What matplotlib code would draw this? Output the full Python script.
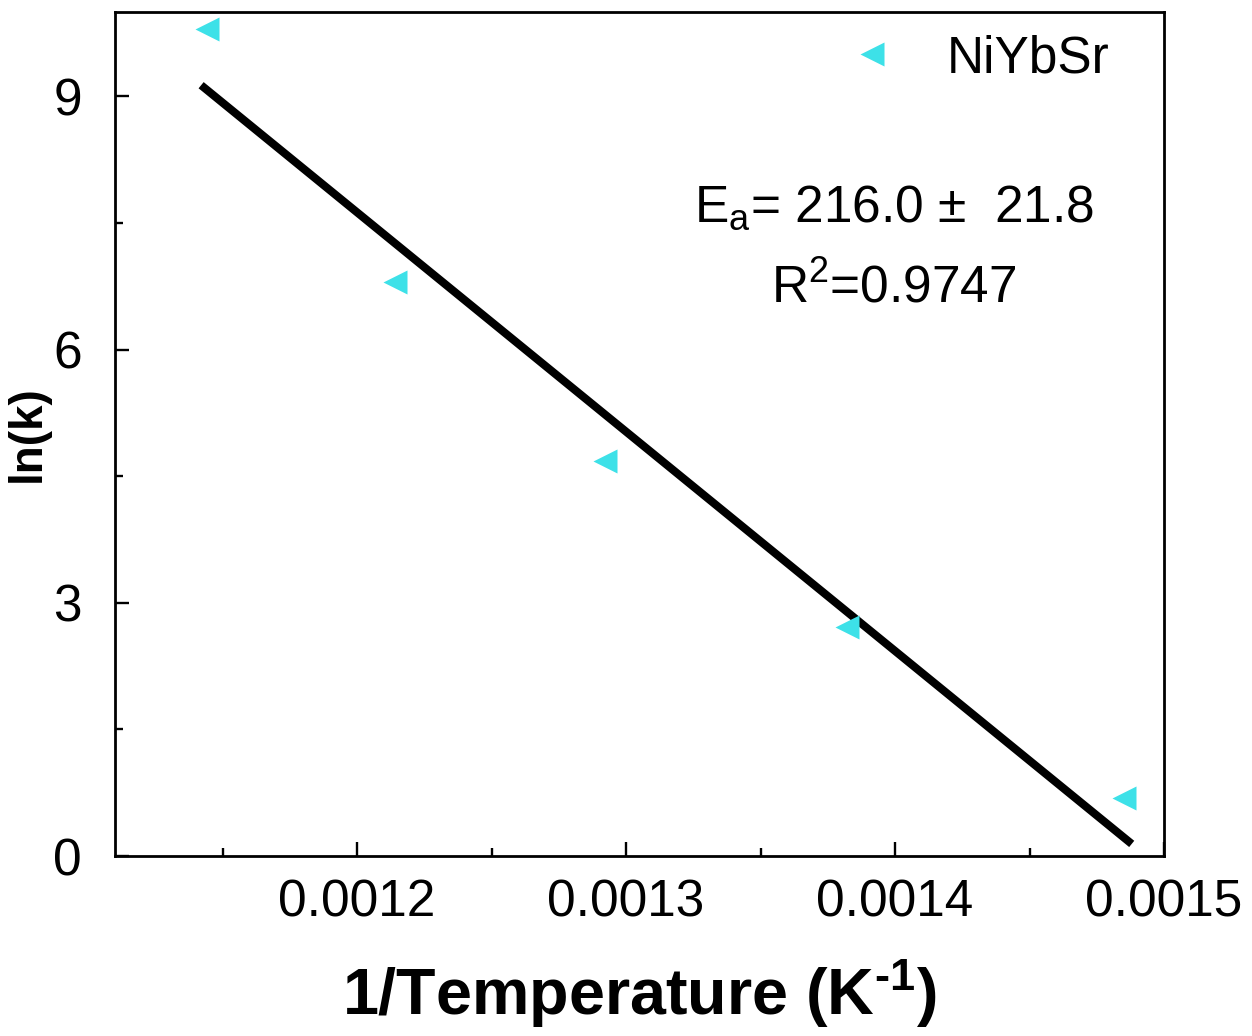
import numpy as np
import matplotlib
matplotlib.use("Agg")
import matplotlib.pyplot as plt
from matplotlib.ticker import MultipleLocator, FormatStrFormatter

plt.rcParams['font.family'] = ['Liberation Sans', 'DejaVu Sans']
plt.rcParams['mathtext.fontset'] = 'custom'
plt.rcParams['mathtext.rm'] = 'Liberation Sans'
plt.rcParams['mathtext.it'] = 'Liberation Sans'
plt.rcParams['mathtext.bf'] = 'Liberation Sans:bold'

# Arrhenius data: 1/T (K^-1) and ln(k)
inv_temp = [0.0011442, 0.001214, 0.001292, 0.0013823, 0.0014852]
ln_k = [9.80, 6.80, 4.68, 2.71, 0.69]
sample = "NiYbSr"
ea = 216.0        # kJ/mol
ea_err = 21.8
r2 = 0.9747
fit_range = [0.001142, 0.001488]
R_GAS = 8.314

x = np.array(inv_temp)
y = np.array(ln_k)
# slope fixed by Ea, intercept by least squares
slope = -ea * 1000 / R_GAS
intercept = y.mean() - slope * x.mean()
xfit = np.array(fit_range)

fig = plt.figure(figsize=(12.52, 10.36), dpi=100)
ax = fig.add_axes([0.0919, 0.1737, 0.8378, 0.8147])

ax.plot(xfit, slope * xfit + intercept, color='black', lw=5.8, solid_capstyle='butt', zorder=2)
ax.plot(x, y, ls='none', marker='<', ms=17, color='#3DE1E8', mec='none', label=sample, zorder=3)

ax.set_xlim(0.00111, 0.0015)
ax.set_ylim(0, 10)
ax.xaxis.set_major_locator(MultipleLocator(0.0001))
ax.xaxis.set_minor_locator(MultipleLocator(0.00005))
ax.xaxis.set_major_formatter(FormatStrFormatter('%.4f'))
ax.yaxis.set_major_locator(MultipleLocator(3))
ax.yaxis.set_minor_locator(MultipleLocator(1.5))

ax.tick_params(which='both', direction='in', width=1.7, top=False, right=False)
ax.tick_params(which='major', length=10, labelsize=37)
ax.tick_params(which='minor', length=5.5)
ax.tick_params(axis='x', which='major', pad=16)
ax.tick_params(axis='y', which='major', pad=24)
for s in ax.spines.values():
    s.set_linewidth(2.0)

ax.set_xlabel("1/Temperature (K$^{\\mathbf{\u2010}\\mathbf{1}}$)", fontsize=46.5, fontweight='bold', labelpad=22)
ax.set_ylabel("ln(k)", fontsize=33, fontweight='bold')
ax.yaxis.set_label_coords(-0.062, 0.5)

ax.text(0.7426, 0.768, r"E$_{\rm a}$= %.1f ±  %.1f" % (ea, ea_err), transform=ax.transAxes,
        fontsize=37, ha='center', va='center')
ax.text(0.7426, 0.672, r"R$^2$=%.4f" % r2, transform=ax.transAxes,
        fontsize=37, ha='center', va='center')

ax.legend(loc='upper right', bbox_to_anchor=(0.977, 1.01), frameon=False, fontsize=37,
          handlelength=1.0, handletextpad=0.95, markerscale=1.0, borderaxespad=0.2)

fig.savefig("out.png", dpi=100)
